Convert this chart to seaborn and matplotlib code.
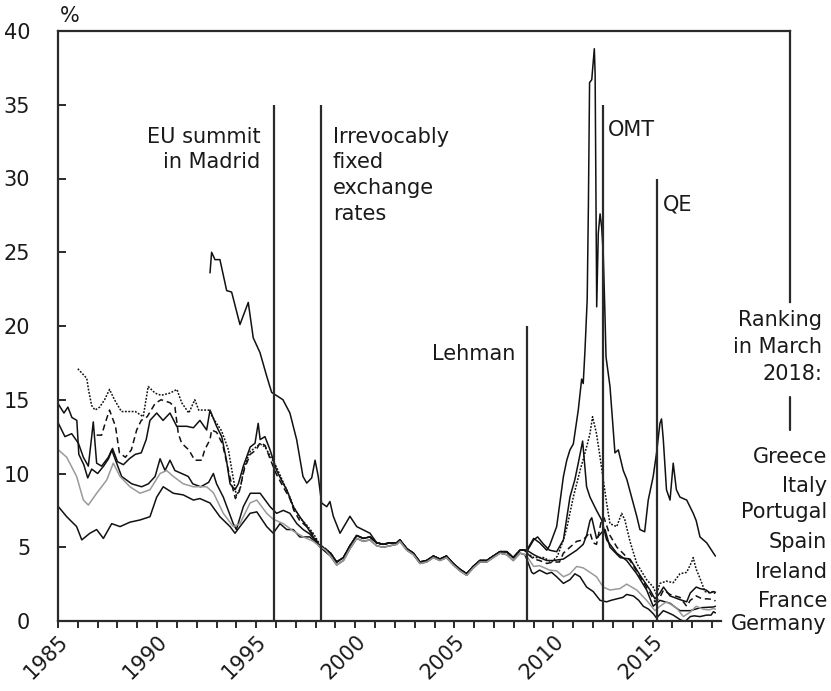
import numpy as np
import pandas as pd
import matplotlib
matplotlib.use("Agg")
import matplotlib.pyplot as plt
import seaborn as sns

# 10-year government bond yields in %
# common stretch after euro entry (core = Germany/France, high = the others)
core_years = [1998.75, 1999.06, 1999.4, 1999.73, 2000.07, 2000.4, 2000.74, 2001.08, 2001.41, 2001.75,
              2002.09, 2002.25, 2002.6, 2002.93, 2003.26, 2003.6, 2003.94, 2004.27, 2004.6, 2004.94,
              2005.28, 2005.62, 2005.95, 2006.29, 2006.63, 2006.96, 2007.3, 2007.64, 2007.97, 2008.31, 2008.55]
core_low = [4.4, 3.8, 4.1, 4.9, 5.6, 5.4, 5.5, 5.1, 5.0, 5.1,
            5.2, 5.4, 4.8, 4.5, 3.9, 4.0, 4.3, 4.1, 4.3, 3.8,
            3.4, 3.1, 3.6, 4.0, 4.0, 4.3, 4.6, 4.5, 4.1, 4.6, 4.5]
core_high = [4.6, 4.0, 4.3, 5.1, 5.8, 5.6, 5.7, 5.3, 5.2, 5.3,
             5.3, 5.5, 4.9, 4.6, 4.0, 4.1, 4.4, 4.2, 4.4, 3.9,
             3.5, 3.2, 3.7, 4.1, 4.1, 4.4, 4.7, 4.7, 4.3, 4.8, 4.8]

greece_early_t = [1992.67, 1992.75, 1992.92, 1993.17, 1993.51, 1993.76, 1994.18, 1994.6, 1994.85, 1995.19,
                  1995.53, 1995.78, 1996.35, 1996.7, 1997.04, 1997.36, 1997.55, 1997.8, 1997.97, 1998.13,
                  1998.3, 1998.56, 1998.72, 1998.89, 1999.23, 1999.73, 2000.07, 2000.74]
greece_early_v = [23.6, 25.0, 24.5, 24.5, 22.4, 22.3, 20.1, 21.6, 19.2, 18.2,
                  16.6, 15.5, 15.0, 14.1, 12.3, 9.8, 9.35, 9.7, 10.9, 9.8,
                  8.0, 7.75, 8.1, 7.1, 5.95, 7.1, 6.4, 5.95]
greece_late_t = [2008.65, 2009.0, 2009.3, 2009.66, 2009.8, 2010.16, 2010.5, 2010.67, 2010.83, 2011.0,
                 2011.25, 2011.42, 2011.5, 2011.59, 2011.7, 2011.76, 2011.82, 2011.93, 2012.06, 2012.1,
                 2012.18, 2012.26, 2012.35, 2012.43, 2012.51, 2012.6, 2012.65, 2012.85, 2013.1, 2013.27,
                 2013.52, 2013.7, 2013.94, 2014.2, 2014.36, 2014.6, 2014.78, 2015.03, 2015.2, 2015.37,
                 2015.45, 2015.54, 2015.7, 2015.88, 2016.04, 2016.2, 2016.38, 2016.72, 2017.05, 2017.2,
                 2017.39, 2017.73, 2018.07, 2018.17]
greece_late_v = [4.8, 5.6, 5.3, 4.8, 5.1, 6.4, 9.8, 10.9, 11.6, 12.0,
                 14.3, 16.4, 16.1, 18.4, 21.8, 28.1, 36.5, 36.7, 38.8, 37.1,
                 21.3, 26.3, 27.6, 26.7, 24.9, 20.6, 17.9, 15.9, 11.4, 11.6,
                 10.2, 9.6, 8.4, 7.1, 6.2, 6.05, 8.2, 9.8, 11.4, 13.4,
                 13.7, 12.3, 8.9, 8.2, 10.7, 8.9, 8.4, 8.2, 7.3, 6.8,
                 5.7, 5.3, 4.6, 4.4]

italy_early_t = [1985.02, 1985.3, 1985.5, 1985.7, 1985.95, 1986.05, 1986.3, 1986.5, 1986.7, 1987.0,
                 1987.3, 1987.55, 1987.75, 1988.0, 1988.3, 1988.6, 1988.9, 1989.2, 1989.45, 1989.64,
                 1989.98, 1990.3, 1990.65, 1990.99, 1991.5, 1991.83, 1992.16, 1992.5, 1992.67, 1993.0,
                 1993.26, 1993.5, 1993.68, 1993.93, 1994.1, 1994.35, 1994.7, 1994.94, 1995.1, 1995.2,
                 1995.44, 1995.7, 1996.03, 1996.37, 1996.54, 1996.87, 1997.2, 1997.55, 1997.88, 1998.2, 1998.5]
italy_early_v = [14.7, 14.1, 14.5, 13.8, 13.6, 11.3, 10.6, 9.7, 10.3, 10.0,
                 10.5, 11.0, 11.7, 10.8, 10.6, 11.0, 11.3, 11.4, 12.3, 13.6,
                 14.1, 13.6, 14.1, 13.2, 13.2, 13.1, 13.6, 12.95, 14.3, 13.2,
                 12.5, 10.9, 9.3, 8.9, 9.3, 10.5, 11.8, 12.05, 13.4, 12.3,
                 12.5, 11.6, 10.2, 9.3, 8.9, 7.75, 7.07, 6.4, 5.7, 5.04, 4.9]
italy_late_t = [2008.65, 2009.0, 2009.3, 2009.66, 2010.0, 2010.5, 2010.83, 2011.17, 2011.5, 2011.67,
                2011.84, 2011.93, 2012.17, 2012.43, 2012.6, 2012.85, 2013.36, 2013.86, 2014.37, 2014.87,
                2015.12, 2015.37, 2015.55, 2015.88, 2016.38, 2016.72, 2016.9, 2017.2, 2017.39, 2017.7,
                2017.9, 2018.07, 2018.17]
italy_late_v = [4.8, 4.5, 4.3, 4.1, 4.1, 4.2, 4.5, 4.8, 5.2, 5.8,
                6.8, 7.0, 5.6, 6.0, 6.2, 5.0, 4.3, 4.2, 3.1, 2.1,
                1.5, 1.9, 2.3, 1.7, 1.45, 1.3, 1.9, 2.3, 2.2, 2.1,
                1.9, 2.0, 1.95]

portugal_early_t = [1986.0, 1986.28, 1986.45, 1986.55, 1986.7, 1986.87, 1987.1, 1987.35, 1987.6, 1987.85,
                    1988.2, 1988.9, 1989.3, 1989.55, 1989.9, 1990.2, 1990.65, 1991.0, 1991.24, 1991.6,
                    1991.9, 1992.1, 1992.6, 1992.9, 1993.25, 1993.6, 1993.8, 1994.0, 1994.2, 1994.4,
                    1994.7, 1995.0, 1995.2, 1995.45, 1995.7, 1996.0, 1996.4, 1996.7, 1996.9, 1997.2,
                    1997.55, 1997.9, 1998.2, 1998.5]
portugal_early_v = [17.1, 16.7, 16.45, 15.6, 14.6, 14.3, 14.5, 15.0, 15.7, 15.0,
                    14.2, 14.2, 13.85, 15.9, 15.45, 15.3, 15.45, 15.7, 14.8, 14.1,
                    15.0, 14.3, 14.3, 13.6, 12.9, 11.6, 10.0, 8.5, 9.0, 10.5,
                    11.5, 11.8, 12.0, 11.8, 11.2, 10.5, 9.3, 8.4, 7.7, 7.0,
                    6.5, 5.9, 5.2, 4.9]
portugal_late_t = [2008.65, 2009.0, 2009.5, 2009.9, 2010.2, 2010.5, 2010.67, 2011.0, 2011.34, 2011.67,
                   2011.84, 2011.97, 2012.17, 2012.35, 2012.51, 2012.68, 2012.85, 2013.19, 2013.44, 2013.6,
                   2013.86, 2014.2, 2014.7, 2015.03, 2015.2, 2015.37, 2015.7, 2016.04, 2016.38, 2016.72,
                   2016.97, 2017.05, 2017.2, 2017.39, 2017.64, 2017.9, 2018.07, 2018.17]
portugal_late_v = [4.6, 4.3, 4.3, 4.0, 4.4, 5.5, 6.3, 8.4, 10.2, 11.8,
                   12.7, 13.85, 12.7, 11.1, 9.6, 8.0, 6.6, 6.4, 7.3, 6.85,
                   5.4, 3.9, 2.8, 2.3, 1.8, 2.55, 2.7, 2.6, 3.2, 3.3,
                   4.0, 4.3, 3.5, 2.9, 2.0, 1.9, 2.0, 1.8]

spain_early_t = [1986.95, 1987.2, 1987.4, 1987.6, 1987.9, 1988.1, 1988.4, 1988.7, 1988.97, 1989.2,
                 1989.5, 1989.9, 1990.2, 1990.65, 1990.9, 1991.07, 1991.24, 1991.6, 1991.9, 1992.25,
                 1992.4, 1992.67, 1992.75, 1993.0, 1993.3, 1993.5, 1993.7, 1993.95, 1994.15, 1994.4,
                 1994.7, 1995.0, 1995.2, 1995.45, 1995.7, 1996.0, 1996.4, 1996.7, 1996.9, 1997.2,
                 1997.55, 1997.9, 1998.2, 1998.5]
spain_early_v = [12.6, 12.6, 13.5, 14.3, 13.2, 11.4, 11.1, 11.6, 12.95, 13.6,
                 13.85, 14.75, 15.0, 14.8, 14.5, 12.7, 12.05, 11.6, 10.9, 10.9,
                 11.6, 12.3, 12.95, 12.8, 12.0, 10.8, 9.6, 8.3, 8.8, 10.3,
                 11.3, 11.6, 12.1, 11.9, 11.0, 10.0, 9.0, 8.3, 7.5, 6.8,
                 6.4, 5.8, 5.1, 4.85]
spain_late_t = [2008.65, 2009.0, 2009.3, 2009.66, 2010.0, 2010.3, 2010.5, 2010.83, 2011.17, 2011.5,
                2011.84, 2012.0, 2012.17, 2012.43, 2012.55, 2012.85, 2013.2, 2013.5, 2013.86, 2014.37,
                2014.87, 2015.12, 2015.37, 2015.55, 2015.88, 2016.38, 2016.72, 2016.9, 2017.2, 2017.5,
                2017.8, 2018.07, 2018.17]
spain_late_v = [4.6, 4.2, 4.1, 3.9, 4.0, 4.0, 4.6, 5.0, 5.4, 5.5,
                6.0, 5.3, 5.2, 6.9, 7.0, 5.8, 5.0, 4.6, 4.1, 3.0,
                1.9, 1.3, 1.6, 2.1, 1.8, 1.6, 1.0, 1.4, 1.7, 1.5,
                1.5, 1.45, 1.35]

ireland_early_t = [1985.02, 1985.35, 1985.69, 1986.03, 1986.28, 1986.53, 1986.7, 1986.78, 1986.95, 1987.2,
                   1987.54, 1987.71, 1987.96, 1988.21, 1988.72, 1989.22, 1989.56, 1989.9, 1990.15, 1990.4,
                   1990.65, 1990.9, 1991.24, 1991.57, 1991.8, 1992.2, 1992.6, 1992.84, 1993.0, 1993.34,
                   1993.84, 1994.0, 1994.35, 1994.7, 1995.2, 1995.7, 1996.03, 1996.37, 1996.7, 1997.05,
                   1997.37, 1997.7, 1998.2, 1998.5]
ireland_early_v = [13.4, 12.5, 12.7, 12.05, 11.1, 10.5, 12.5, 13.5, 10.7, 10.5,
                   11.1, 11.6, 10.7, 9.8, 9.3, 9.1, 9.3, 9.8, 11.0, 10.2,
                   10.9, 10.2, 10.0, 9.8, 9.3, 9.1, 9.4, 10.0, 9.3, 8.4,
                   6.6, 6.2, 7.75, 8.66, 8.66, 7.75, 7.3, 7.5, 7.3, 6.6,
                   6.2, 5.9, 5.1, 4.8]
ireland_late_t = [2008.65, 2009.0, 2009.2, 2009.5, 2009.8, 2010.16, 2010.5, 2010.83, 2011.08, 2011.25,
                  2011.47, 2011.67, 2011.84, 2012.17, 2012.43, 2012.68, 2013.19, 2013.69, 2014.2, 2014.7,
                  2015.03, 2015.37, 2015.88, 2016.38, 2016.9, 2017.4, 2018.07, 2018.17]
ireland_late_v = [4.7, 5.5, 5.7, 5.2, 4.8, 4.7, 5.5, 8.4, 9.6, 10.7,
                  12.2, 9.1, 8.4, 7.5, 6.85, 5.5, 4.6, 4.1, 3.2, 2.1,
                  1.0, 1.4, 1.2, 0.7, 0.7, 0.9, 0.95, 1.0]

france_early_t = [1985.02, 1985.44, 1985.94, 1986.28, 1986.53, 1986.95, 1987.46, 1987.79, 1988.13, 1988.63,
                  1989.14, 1989.64, 1990.15, 1990.48, 1990.82, 1991.32, 1991.83, 1992.5, 1992.84, 1993.34,
                  1993.84, 1994.18, 1994.69, 1995.03, 1995.53, 1995.86, 1996.37, 1996.87, 1997.38, 1997.88,
                  1998.22, 1998.5]
france_early_v = [11.6, 11.1, 9.8, 8.2, 7.86, 8.66, 9.56, 10.7, 9.8, 9.1,
                  8.66, 8.9, 10.0, 10.2, 9.8, 9.3, 9.1, 9.1, 8.7, 7.3,
                  6.4, 6.6, 8.0, 8.2, 7.3, 6.9, 6.6, 6.1, 5.7, 5.4,
                  5.04, 4.8]
france_late_t = [2008.65, 2009.0, 2009.3, 2009.8, 2010.16, 2010.5, 2010.83, 2011.17, 2011.5, 2011.84,
                 2012.17, 2012.51, 2012.85, 2013.36, 2013.69, 2014.2, 2014.7, 2015.12, 2015.37, 2015.7,
                 2016.2, 2016.55, 2016.9, 2017.2, 2017.55, 2017.85, 2018.07, 2018.17]
france_late_v = [4.4, 3.7, 3.75, 3.45, 3.4, 3.0, 3.2, 3.7, 3.6, 3.3,
                 3.0, 2.3, 2.1, 2.2, 2.5, 2.1, 1.4, 0.7, 1.0, 1.3,
                 0.9, 0.3, 0.6, 1.0, 0.8, 0.75, 0.85, 0.8]

germany_early_t = [1985.02, 1985.44, 1985.94, 1986.2, 1986.61, 1986.95, 1987.29, 1987.71, 1988.13, 1988.63,
                   1989.14, 1989.64, 1989.98, 1990.31, 1990.82, 1991.32, 1991.83, 1992.16, 1992.67, 1993.17,
                   1993.68, 1993.93, 1994.18, 1994.69, 1995.03, 1995.53, 1995.86, 1996.2, 1996.54, 1996.87,
                   1997.2, 1997.7, 1998.05, 1998.4]
germany_early_v = [7.75, 7.07, 6.4, 5.5, 5.95, 6.2, 5.6, 6.6, 6.4, 6.7,
                   6.85, 7.07, 8.4, 9.1, 8.66, 8.55, 8.2, 8.3, 8.0, 7.07,
                   6.4, 5.95, 6.4, 7.3, 7.4, 6.4, 5.95, 6.6, 6.2, 6.2,
                   5.7, 5.7, 5.27, 4.8]
germany_late_t = [2008.65, 2008.9, 2009.0, 2009.3, 2009.66, 2009.9, 2010.16, 2010.5, 2010.83, 2011.08,
                  2011.34, 2011.67, 2012.0, 2012.35, 2012.68, 2012.9, 2013.19, 2013.5, 2013.69, 2014.03,
                  2014.3, 2014.53, 2014.8, 2015.03, 2015.2, 2015.54, 2015.8, 2016.04, 2016.38, 2016.63,
                  2016.9, 2017.1, 2017.39, 2017.73, 2017.95, 2018.07, 2018.17]
germany_late_v = [4.2, 3.3, 3.2, 3.45, 3.2, 3.3, 3.0, 2.55, 2.8, 3.2,
                  3.0, 2.3, 2.0, 1.4, 1.3, 1.4, 1.5, 1.6, 1.8, 1.7,
                  1.4, 1.0, 0.8, 0.5, 0.2, 0.7, 0.55, 0.4, 0.1, -0.05,
                  0.3, 0.35, 0.3, 0.4, 0.4, 0.63, 0.55]

# ranking in March 2018 (top to bottom) and events
ranking = ["Greece", "Italy", "Portugal", "Spain", "Ireland", "France", "Germany"]
events = ["EU summit\nin Madrid", "Irrevocably\nfixed\nexchange\nrates", "Lehman", "OMT", "QE"]
event_years = [1995.88, 1998.25, 2008.65, 2012.5, 2015.2]
event_tops = [35, 35, 20, 35, 30]

# assemble long table
pieces = {
    "Greece": (greece_early_t + core_years[7:] + greece_late_t, greece_early_v + core_high[7:] + greece_late_v),
    "Italy": (italy_early_t + core_years + italy_late_t, italy_early_v + core_high + italy_late_v),
    "Portugal": (portugal_early_t + core_years + portugal_late_t, portugal_early_v + core_high + portugal_late_v),
    "Spain": (spain_early_t + core_years + spain_late_t, spain_early_v + core_high + spain_late_v),
    "Ireland": (ireland_early_t + core_years + ireland_late_t, ireland_early_v + core_high + ireland_late_v),
    "France": (france_early_t + core_years + france_late_t, france_early_v + core_low + france_late_v),
    "Germany": (germany_early_t + core_years + germany_late_t, germany_early_v + core_low + germany_late_v),
}
rows = []
for name, (t, v) in pieces.items():
    assert len(t) == len(v), name
    rows.append(pd.DataFrame({"year": t, "value": v, "country": name}))
df = pd.concat(rows, ignore_index=True)

sns.set_style("white")
plt.rcParams["font.family"] = ["DejaVu Sans"]
ink = "#1a1a1a"
frame = "#2a2a2a"

fig = plt.figure(figsize=(8.31, 6.91), dpi=100)
ax = fig.add_axes([58 / 831, 70 / 691, 732 / 831, 590 / 691])

colors = {c: "#111111" for c in ranking}
colors["France"] = "#9a9a9a"
dashes = {c: "" for c in ranking}
dashes["Portugal"] = (1.2, 1.0)
dashes["Spain"] = (4, 2.5)

sns.lineplot(data=df, x="year", y="value", hue="country", style="country",
             hue_order=["Germany", "Ireland", "Spain", "Portugal", "Italy", "Greece", "France"],
             palette=colors, dashes=dashes, estimator=None, sort=False,
             linewidth=1.1, legend=False, ax=ax)

xmax = 1985 + 732 / 19.82
ax.set_xlim(1985, xmax)
ax.set_ylim(0, 40)

ax.vlines(event_years, 0, event_tops, color=frame, lw=1.6)

for side in ["left", "top", "right", "bottom"]:
    ax.spines[side].set_color(frame)
    ax.spines[side].set_linewidth(1.6)
ax.spines["right"].set_bounds(21.6, 40)
ax.spines["bottom"].set_bounds(1985, 2018.45)
ax.plot([xmax, xmax], [12.95, 15.2], color=frame, lw=1.6, clip_on=False)

ax.set_yticks(range(0, 41, 5))
ax.set_xticks(range(1985, 2019))
ax.set_xticklabels([str(y) if y % 5 == 0 else "" for y in range(1985, 2019)],
                   rotation=45, ha="right", va="top", rotation_mode="anchor")
ax.tick_params(axis="y", left=True, direction="in", length=6, width=1.4, pad=20, labelsize=15,
               color=frame, labelcolor=ink)
ax.tick_params(axis="x", bottom=True, direction="out", length=5, width=1.4, pad=2, labelsize=15,
               color=frame, labelcolor=ink)
ax.set_xlabel("")
ax.set_ylabel("")

ax.text(1985.1, 40.6, "%", fontsize=15, color=ink, ha="left", va="baseline")

fs = 15
ax.text(1995.2, 33.5, events[0], fontsize=fs, color=ink, ha="right", va="top", linespacing=1.3)
ax.text(1998.87, 33.5, events[1], fontsize=fs, color=ink, ha="left", va="top", linespacing=1.35)
ax.text(2008.06, 17.7, events[2], fontsize=fs, color=ink, ha="right", va="baseline")
ax.text(2012.75, 32.9, events[3], fontsize=fs, color=ink, ha="left", va="baseline")
ax.text(2015.52, 27.8, events[4], fontsize=fs, color=ink, ha="left", va="baseline")

ax.text(2023.55, 21.1, "Ranking\nin March\n2018:", fontsize=fs, color=ink,
        ha="right", va="top", linespacing=1.45)
label_y = [10.71, 8.76, 6.98, 4.95, 2.92, 0.97, -0.61]
for name, y in zip(ranking, label_y):
    ax.text(2023.8, y, name, fontsize=fs, color=ink, ha="right", va="baseline", clip_on=False)

fig.savefig("out.png", dpi=100)
